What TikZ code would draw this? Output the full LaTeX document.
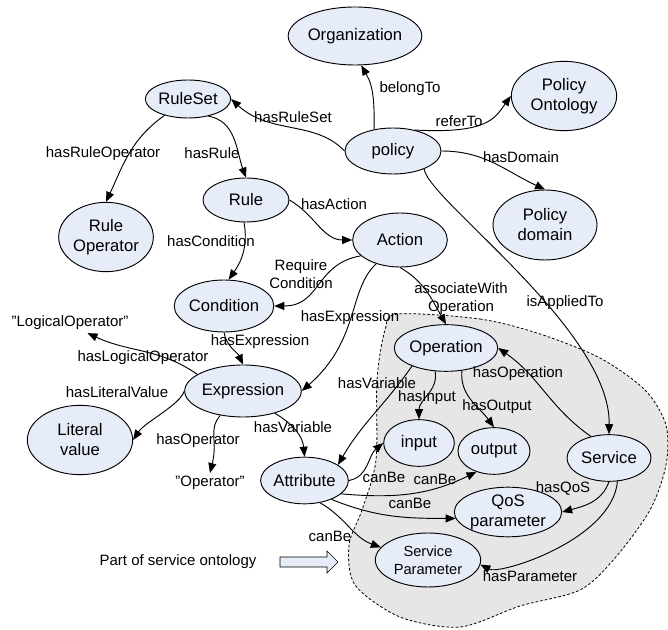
\documentclass[tikz,border=0pt]{standalone}
\usepackage{fontspec}
\setmainfont{Liberation Sans}
\usepackage{tikz}
\usetikzlibrary{shapes,arrows.meta}
\definecolor{conceptfill}{HTML}{E6ECF8}
\definecolor{blobfill}{HTML}{E6E6E6}
\tikzset{
  concept/.style={ellipse, draw, fill=conceptfill, inner sep=0pt, align=center, font=\fontsize{12.5}{15}\selectfont},
  sized/.style 2 args={minimum width=#1pt, minimum height=#2pt},
  literal/.style={inner sep=2pt, font=\fontsize{11.25}{13.5}\selectfont},
  edgelabel/.style={inner sep=0pt, align=center, font=\fontsize{11.25}{13.5}\selectfont},
  rel/.style={-{Triangle[length=7.5pt,width=6pt]}}
}
\newcommand{\concept}[4] {\node at (#1) (#2) [concept, #3] {#4};}
\newcommand{\literal}[3] {\node at (#1) (#2) [literal] {#3};}
\newcommand{\relation}[6] {\draw [rel] (#1) #3 (#2); \node at (#4) (#5) [edgelabel] {#6};}

\begin{document}
\begin{tikzpicture}[x=0.75pt, y=0.75pt, line width=0.7pt]
\useasboundingbox (0,0) rectangle (668,-630);

\draw [fill=blobfill, line width=0.6pt, dash pattern=on 2pt off 1.5pt] plot [smooth cycle] coordinates {
  (398,-314) (480,-319) (540,-334) (600,-358) (645,-390) (666,-425) (666,-465) (650,-510)
  (615,-558) (580,-590) (520,-606) (460,-627) (400,-617) (355,-585) (349,-545) (362,-510)
  (376,-460) (377,-380) (385,-330)};

\concept {355,-36}{org}{sized={93}{43.5}}{Organization}
\concept {188,-99}{ruleset}{sized={64}{28.5}}{RuleSet}
\concept {393,-151}{policy}{sized={72}{34.5}}{policy}
\concept {564,-96}{pontology}{sized={79}{52}}{Policy\\Ontology}
\concept {545,-225}{pdomain}{sized={78}{52.5}}{Policy\\domain}
\concept {106,-237}{ruleop}{sized={71}{52}}{Rule\\Operator}
\concept {246,-200}{rule}{sized={64.5}{33}}{Rule}
\concept {400,-240}{action}{sized={71}{40.5}}{Action}
\concept {224,-306}{condition}{sized={73}{39}}{Condition}
\concept {243,-391}{expression}{sized={79}{39}}{Expression}
\concept {80,-440}{literal}{sized={79}{52}}{Literal\\value}
\concept {304.5,-480.5}{attribute}{sized={61.5}{35}}{Attribute}
\concept {446,-348}{operation}{sized={71}{35}}{Operation}
\concept {419,-443}{input}{sized={53}{35}}{input}
\concept {494,-451}{output}{sized={54}{35}}{output}
\concept {609,-458}{service}{sized={63}{35}}{Service}
\concept {508,-512}{qos}{sized={68}{37}}{QoS\\parameter}
\concept {428,-560}{sparam}{sized={79}{40.5}, font=\fontsize{11}{13.5}\selectfont}{Service\\Parameter}
\literal {70,-323}{logop}{''LogicalOperator''}
\literal {210,-483}{operator}{''Operator''}
\literal {178,-562}{partlabel}{Part of service ontology}

\draw [fill=conceptfill, line width=0.5pt] (280,-557) -- (327,-557) -- (327,-551) -- (338,-562)
  -- (327,-573) -- (327,-567) -- (280,-567) -- cycle;

\relation {policy.131}{org.-78}{to[out=90, in=-60]}{410,-89}{lbelong}{belongTo}
\relation {policy.44}{pontology.west}{.. controls (488,-134) and (495,-118) ..}{459,-121}{lrefer}{referTo}
\relation {policy.east}{pdomain.north}{to[out=0, in=155]}{521,-157}{ldomain}{hasDomain}
\relation {policy.west}{ruleset.east}{.. controls (315,-120) and (270,-135) ..}{293,-117}{lruleset}{hasRuleSet}
\relation {policy.-30}{service.north}{.. controls (428,-200) and (611,-330) ..}{565,-303}{lapplied}{isAppliedTo}
\relation {ruleset.215}{ruleop.north}{to[out=215, in=65]}{103,-154}{lruleop}{hasRuleOperator}
\relation {ruleset.-40}{rule.north}{to[out=-10, in=110]}{212,-153}{lrule}{hasRule}
\relation {rule.east}{action.west}{to[out=-30, in=180]}{334,-204}{laction}{hasAction}
\relation {rule.-95}{condition.80}{to[out=-80, in=55]}{211,-241}{lcondition}{hasCondition}
\relation {action.202}{condition.east}{to[out=190, in=0, looseness=1.2]}{301,-274}{lrequire}{Require\\Condition}
\relation {action.south}{operation.north}{to[out=-30, in=120]}{461,-299}{lassociate}{associateWith\\Operation}
\relation {action.225}{expression.east}{.. controls (348,-290) and (360,-340) ..}{350,-318}{lexpraction}{hasExpression}
\relation {condition.south}{expression.north}{to[out=-80, in=115]}{260,-342}{lexprcond}{hasExpression}
\relation {expression.160}{logop.-30}{to[out=145, in=-25]}{143,-358}{llogop}{hasLogicalOperator}
\relation {expression.west}{literal.east}{.. controls (180,-405) and (145,-422) ..}{117,-392}{lliteral}{hasLiteralValue}
\relation {expression.-133}{operator.north}{.. controls (208,-430) and (218,-440) ..}{198,-441}{loperator}{hasOperator}
\relation {expression.-35}{attribute.north}{to[out=-30, in=95]}{293,-427}{lvarexpr}{hasVariable}
\relation {operation.-152}{attribute.25}{to[out=-125, in=60]}{377,-383}{lvarop}{hasVariable}
\relation {operation.-115}{input.north}{to[out=-80, in=90]}{427,-398}{linput}{hasInput}
\relation {operation.-55}{output.north}{to[out=-95, in=126]}{497,-407}{loutput}{hasOutput}
\relation {service.130}{operation.east}{to[out=145, in=-35]}{518,-374}{loperation}{hasOperation}
\relation {service.south}{qos.east}{to[out=-110, in=15]}{563,-488}{lqos}{hasQoS}
\relation {service.-70}{sparam.-5}{.. controls (612,-540) and (500,-575) ..}{530,-576}{lparam}{hasParameter}
\relation {attribute.east}{input.west}{to[out=10, in=220]}{384,-477}{lcaninput}{canBe}
\relation {attribute.-20}{output.-130}{to[out=-5, in=206]}{435,-479}{lcanoutput}{canBe}
\relation {attribute.-35}{qos.187}{to[out=-22, in=180]}{410,-503}{lcanqos}{canBe}
\relation {attribute.-55}{sparam.165}{to[out=-30, in=160]}{330,-536}{lcansparam}{canBe}
\end{tikzpicture}
\end{document}
